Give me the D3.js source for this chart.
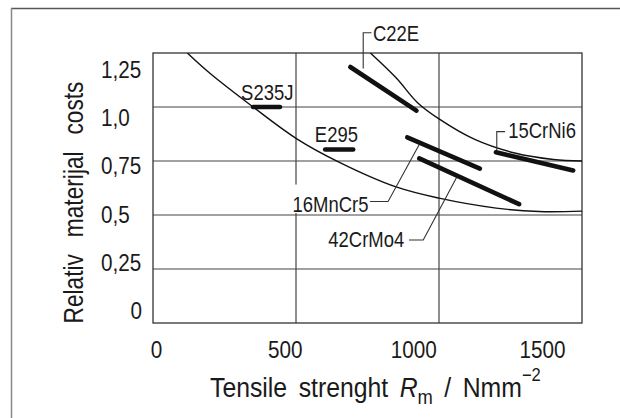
<!DOCTYPE html>
<html>
<head>
<meta charset="utf-8">
<script src="https://cdn.jsdelivr.net/npm/d3@7"></script>
<style>
body { margin: 0; background: #fff; }
svg text { font-family: "Liberation Sans", Arial, sans-serif; fill: #1a1a1a; }
</style>
</head>
<body>
<div id="chart"></div>
<script>
// axis ticks
var xTicks = [0, 500, 1000, 1500];
var yTicks = [0, 0.25, 0.5, 0.75, 1.0, 1.25];
var yTickLabels = ["0", "0,25", "0,5", "0,75", "1,0", "1,25"];

// bounding curves [Rm, relative cost]
var lowerCurve = [[120, 1.25], [200, 1.155], [350, 1.0], [500, 0.855], [650, 0.745], [850, 0.63],
                  [1000, 0.578], [1200, 0.532], [1350, 0.516], [1500, 0.518]];
var upperCurve = [[760, 1.25], [850, 1.135], [925, 1.02], [1000, 0.945], [1125, 0.85],
                  [1265, 0.787], [1400, 0.757], [1500, 0.75]];

// steels and their cost bands
var steels     = ["S235J", "E295", "C22E", "16MnCr5", "42CrMo4", "15CrNi6"];
var steelStart = [[350, 1.0], [602, 0.803], [690, 1.185], [889, 0.859], [931, 0.762], [1199, 0.79]];
var steelEnd   = [[444, 1.0], [700, 0.803], [921, 0.983], [1143, 0.715], [1280, 0.55], [1469, 0.706]];

// where each name sits (data units) and its leader line
var labelAt = [[308, 1.032], [566, 0.839], [769, 1.307], [488, 0.516], [613, 0.354], [1242, 0.855]];
var leaders = [null, null,
    [[764, 1.344], [735, 1.344], [735, 1.178]],
    [[759, 0.5625], [822, 0.5625], [931, 0.826]],
    [[895, 0.384], [945, 0.384], [1061, 0.672]],
    [[1231, 0.886], [1202, 0.886], [1202, 0.793]]];

var W = 620, H = 418;

var svg = d3.select("#chart")
    .append("svg")
    .attr("width", W)
    .attr("height", H);

// narrow the lettering horizontally around its anchor
function squeeze(sel, k) {
    sel.each(function() {
        var t = d3.select(this);
        var x0 = +t.attr("x") || 0;
        t.attr("transform", "translate(" + x0 + ",0) scale(" + k + ",1) translate(" + (-x0) + ",0)");
    });
}

// outer frame (top + left only)
svg.append("line").attr("x1", 11).attr("x2", W).attr("y1", 8.5).attr("y2", 8.5)
    .style("stroke", "#555").style("stroke-width", 1.5);
svg.append("line").attr("x1", 11.5).attr("x2", 11.5).attr("y1", 8).attr("y2", H)
    .style("stroke", "#888").style("stroke-width", 1.5);

var x = d3.scaleLinear().domain([0, 1500]).range([153, 582]);
var y = d3.scaleLinear().domain([0, 1.25]).range([323, 53]);

// label scales (the printed numbers do not sit exactly on the grid)
var xLab = d3.scaleLinear().domain([0, 1500]).range([156, 542]);
var yLab = d3.scaleLinear().domain([0, 1.25]).range([310.5, 69.5]);

// grid
var grid = svg.append("g");
grid.selectAll("hline")
    .data(yTicks.slice(1, 5))
    .enter().append("line")
    .attr("x1", x(0)).attr("x2", x(1500))
    .attr("y1", function(d) { return y(d); })
    .attr("y2", function(d) { return y(d); })
    .style("stroke", "#444").style("stroke-width", 1.2);
grid.selectAll("vline")
    .data([500, 1000])
    .enter().append("line")
    .attr("x1", function(d) { return x(d); })
    .attr("x2", function(d) { return x(d); })
    .attr("y1", y(0)).attr("y2", y(1.25))
    .style("stroke", "#444").style("stroke-width", 1.2);
grid.append("rect")
    .attr("x", x(0)).attr("y", y(1.25))
    .attr("width", x(1500) - x(0)).attr("height", y(0) - y(1.25))
    .style("fill", "none").style("stroke", "#333").style("stroke-width", 1.3);

// x tick labels
var xAxis = svg.append("g")
    .attr("transform", "translate(0,358)")
    .call(d3.axisBottom(xLab).tickValues(xTicks).tickSize(0).tickPadding(0).tickFormat(d3.format("d")));
xAxis.select(".domain").remove();
xAxis.selectAll("text")
    .attr("y", 0).attr("dy", 0)
    .attr("fill", null)
    .style("font-size", "23px").style("font-family", null);
squeeze(xAxis.selectAll("text"), 0.9);

// y tick labels
var yl = svg.selectAll("ylab")
    .data(yTicks)
    .enter().append("text")
    .attr("x", function(d, i) { return i == 0 ? 142 : 101; })
    .attr("y", function(d) { return yLab(d) + 8.5; })
    .attr("text-anchor", function(d, i) { return i == 0 ? "end" : "start"; })
    .style("font-size", "23.5px")
    .text(function(d, i) { return yTickLabels[i]; });
squeeze(yl, 0.88);

// axis titles
var yt = svg.append("text")
    .attr("text-anchor", "middle")
    .style("font-size", "28px")
    .style("word-spacing", "13px")
    .text("Relativ materijal costs");
var ky = 242 / yt.node().getBBox().width;
yt.attr("transform", "translate(83,202.5) rotate(-90) scale(" + ky + ",1)");

var xt = svg.append("text")
    .style("font-size", "27px")
    .style("word-spacing", "5px");
xt.append("tspan").text("Tensile strenght ");
xt.append("tspan").style("font-style", "italic").text("R");
xt.append("tspan").attr("dy", 7).style("font-size", "20px").text("m");
xt.append("tspan").attr("dy", -7).text(" / Nmm");
xt.append("tspan").attr("dy", -16).style("font-size", "18px").text("\u22122");
var kx = 331 / xt.node().getBBox().width;
xt.attr("transform", "translate(210,397) scale(" + kx + ",1)");

// clip for the curves
svg.append("clipPath").attr("id", "plotclip")
    .append("rect")
    .attr("x", x(0)).attr("y", y(1.25))
    .attr("width", x(1500) - x(0)).attr("height", y(0) - y(1.25));

var line = d3.line()
    .x(function(d) { return x(d[0]); })
    .y(function(d) { return y(d[1]); })
    .curve(d3.curveCatmullRom);

svg.append("g").attr("clip-path", "url(#plotclip)")
    .selectAll("path")
    .data([lowerCurve, upperCurve])
    .enter().append("path")
    .attr("d", line)
    .style("fill", "none").style("stroke", "#111").style("stroke-width", 1.4);

// leader lines
svg.selectAll("leader")
    .data(leaders.filter(function(d) { return d; }))
    .enter().append("path")
    .attr("d", d3.line().x(function(d) { return x(d[0]); }).y(function(d) { return y(d[1]); }))
    .style("fill", "none").style("stroke", "#333").style("stroke-width", 1.1);

// white patch so the 500 gridline stops at the 16MnCr5 label
var lab16 = labelAt[3];
svg.append("rect")
    .attr("x", x(lab16[0]) - 3).attr("y", y(lab16[1]) - 27)
    .attr("width", 14).attr("height", 28.5)
    .style("fill", "#fff");

// steel bands
svg.selectAll("band")
    .data(steels)
    .enter().append("line")
    .attr("x1", function(d, i) { return x(steelStart[i][0]); })
    .attr("y1", function(d, i) { return y(steelStart[i][1]); })
    .attr("x2", function(d, i) { return x(steelEnd[i][0]); })
    .attr("y2", function(d, i) { return y(steelEnd[i][1]); })
    .style("stroke", "#111").style("stroke-width", 4.6).style("stroke-linecap", "round");

// steel names
var names = svg.selectAll("name")
    .data(steels)
    .enter().append("text")
    .attr("x", function(d, i) { return x(labelAt[i][0]); })
    .attr("y", function(d, i) { return y(labelAt[i][1]); })
    .style("font-size", "22px")
    .text(function(d) { return d; });
squeeze(names, 0.84);
</script>
</body>
</html>
